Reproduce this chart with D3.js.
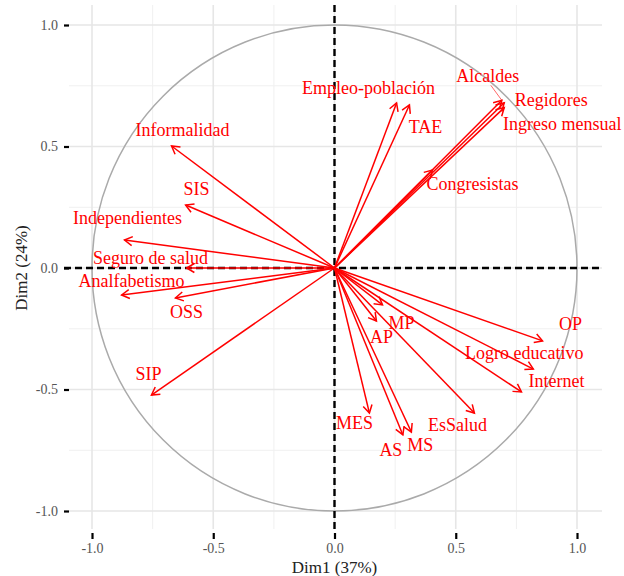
<!DOCTYPE html>
<html>
<head>
<meta charset="utf-8">
<script src="https://cdn.jsdelivr.net/npm/d3@7"></script>
<style>
  body { margin: 0; background: #fff; }
  svg { display: block; }
</style>
</head>
<body>
<svg id="chart" width="624" height="576"></svg>
<script>
// variable coordinates (correlations with Dim1 / Dim2)
const varNames = ['Empleo-población', 'TAE', 'Alcaldes', 'Regidores', 'Ingreso mensual', 'Congresistas',
  'Informalidad', 'SIS', 'Independientes', 'Seguro de salud', 'Analfabetismo', 'OSS', 'SIP',
  'MP', 'AP', 'OP', 'Logro educativo', 'Internet', 'MES', 'EsSalud', 'AS', 'MS'];
const dim1 = [0.256, 0.309, 0.69, 0.70, 0.70, 0.404,
  -0.672, -0.614, -0.866, -0.61, -0.878, -0.656, -0.755,
  0.198, 0.173, 0.858, 0.82, 0.771, 0.144, 0.577, 0.282, 0.317];
const dim2 = [0.679, 0.671, 0.69, 0.68, 0.66, 0.403,
  0.502, 0.259, 0.115, 0.0, -0.111, -0.123, -0.523,
  -0.152, -0.218, -0.300, -0.416, -0.51, -0.597, -0.597, -0.687, -0.675];
const ticks = [-1.0, -0.5, 0.0, 0.5, 1.0];
const minorTicks = [-0.75, -0.25, 0.25, 0.75];
const xTitle = 'Dim1 (37%)';
const yTitle = 'Dim2 (24%)';

// label placement (px offsets from arrow tip, like ggrepel did)
const labelOffset = {
  'Empleo-población': [-28, -15], 'TAE': [16, 22], 'Alcaldes': [-14, -25, true],
  'Regidores': [47, -3], 'Ingreso mensual': [58, 16], 'Congresistas': [40, 14],
  'Informalidad': [11, -16], 'SIS': [11, -16], 'Independientes': [3, -22],
  'Seguro de salud': [-36, -10], 'Analfabetismo': [10, -14], 'OSS': [11, 14],
  'SIP': [-3, -21], 'MP': [19, 18], 'AP': [5, 16], 'OP': [28, -17],
  'Logro educativo': [-9, -16], 'Internet': [35, -11], 'MES': [-15, 10],
  'EsSalud': [-17, 12], 'AS': [-12, 15], 'MS': [9, 13]
};

const data = varNames.map((name, i) => ({ name, x: dim1[i], y: dim2[i] }));

const svg = d3.select('#chart');
const panel = { left: 69, right: 602, top: 5, bottom: 529 };

const x = d3.scaleLinear().domain([-1, 1]).range([92, 577]);
const y = d3.scaleLinear().domain([-1, 1]).range([511, 25]);

const serif = '"Liberation Serif", "Times New Roman", serif';

// grid
const grid = svg.append('g');
grid.selectAll('.vminor').data(minorTicks).enter().append('line')
  .attr('x1', d => x(d)).attr('x2', d => x(d))
  .attr('y1', panel.top).attr('y2', panel.bottom)
  .attr('stroke', '#f0f0f0').attr('stroke-width', 1);
grid.selectAll('.hminor').data(minorTicks).enter().append('line')
  .attr('y1', d => y(d)).attr('y2', d => y(d))
  .attr('x1', panel.left).attr('x2', panel.right)
  .attr('stroke', '#f0f0f0').attr('stroke-width', 1);
grid.selectAll('.vmajor').data(ticks).enter().append('line')
  .attr('x1', d => x(d)).attr('x2', d => x(d))
  .attr('y1', panel.top).attr('y2', panel.bottom)
  .attr('stroke', '#e6e6e6').attr('stroke-width', 1.6);
grid.selectAll('.hmajor').data(ticks).enter().append('line')
  .attr('y1', d => y(d)).attr('y2', d => y(d))
  .attr('x1', panel.left).attr('x2', panel.right)
  .attr('stroke', '#e6e6e6').attr('stroke-width', 1.6);

// unit circle
svg.append('ellipse')
  .attr('cx', x(0)).attr('cy', y(0))
  .attr('rx', x(1) - x(0)).attr('ry', y(0) - y(1))
  .attr('fill', 'none').attr('stroke', '#aaaaaa').attr('stroke-width', 1.5);

// axes ticks and labels (plain hyphen for negatives, like the original)
const fmt = d => d.toFixed(1);
const xAxis = d3.axisBottom(x).tickValues(ticks).tickFormat(fmt).tickSize(6).tickPadding(4);
const gx = svg.append('g').attr('transform', `translate(0,${panel.bottom + 4})`).call(xAxis);
const yAxis = d3.axisLeft(y).tickValues(ticks).tickFormat(fmt).tickSize(5).tickPadding(6);
const gy = svg.append('g').attr('transform', `translate(${panel.left},0)`).call(yAxis);
[gx, gy].forEach(g => {
  g.select('.domain').remove();
  g.selectAll('.tick line').attr('stroke', '#000').attr('stroke-width', 2.2);
  g.selectAll('.tick text').attr('fill', '#555').style('font-family', serif).style('font-size', '14px');
});

// reference dashed lines
svg.append('line')
  .attr('x1', x(0)).attr('x2', x(0)).attr('y1', panel.top).attr('y2', panel.bottom)
  .attr('stroke', '#000').attr('stroke-width', 2.4).attr('stroke-dasharray', '7,4');
svg.append('line')
  .attr('x1', panel.left - 5).attr('x2', panel.right).attr('y1', y(0)).attr('y2', y(0))
  .attr('stroke', '#000').attr('stroke-width', 2.4).attr('stroke-dasharray', '7,4');

// arrows
const red = '#ff0000';
const arrows = svg.append('g');
arrows.selectAll('.arrow').data(data).enter().append('line')
  .attr('x1', x(0)).attr('y1', y(0))
  .attr('x2', d => x(d.x)).attr('y2', d => y(d.y))
  .attr('stroke', red).attr('stroke-width', 1.5);

const headLen = 9;
arrows.selectAll('.head').data(data).enter().append('path')
  .attr('d', d => {
    const tx = x(d.x), ty = y(d.y);
    const ang = Math.atan2(ty - y(0), tx - x(0));
    const a1 = ang + Math.PI - Math.PI / 6;
    const a2 = ang + Math.PI + Math.PI / 6;
    return `M${tx + headLen * Math.cos(a1)},${ty + headLen * Math.sin(a1)}L${tx},${ty}L${tx + headLen * Math.cos(a2)},${ty + headLen * Math.sin(a2)}`;
  })
  .attr('fill', 'none').attr('stroke', red).attr('stroke-width', 1.5)
  .attr('stroke-linejoin', 'miter');

// repel segments
arrows.selectAll('.seg').data(data.filter(d => labelOffset[d.name][2])).enter().append('line')
  .attr('x1', d => x(d.x) + labelOffset[d.name][0] + 3)
  .attr('y1', d => y(d.y) + labelOffset[d.name][1] + 10)
  .attr('x2', d => x(d.x)).attr('y2', d => y(d.y))
  .attr('stroke', red).attr('stroke-width', 0.6);

// labels
svg.append('g').selectAll('text').data(data).enter().append('text')
  .attr('x', d => x(d.x) + labelOffset[d.name][0])
  .attr('y', d => y(d.y) + labelOffset[d.name][1])
  .attr('dy', '0.35em')
  .attr('text-anchor', 'middle')
  .attr('fill', red)
  .style('font-family', serif)
  .style('font-size', '18px')
  .text(d => d.name);

// titles
svg.append('text')
  .attr('x', x(0)).attr('y', 573)
  .attr('text-anchor', 'middle')
  .attr('fill', '#222')
  .style('font-family', serif).style('font-size', '17px')
  .text(xTitle);
svg.append('text')
  .attr('transform', `translate(27,${y(0)}) rotate(-90)`)
  .attr('text-anchor', 'middle')
  .attr('fill', '#222')
  .style('font-family', serif).style('font-size', '17px')
  .text(yTitle);
</script>
</body>
</html>
